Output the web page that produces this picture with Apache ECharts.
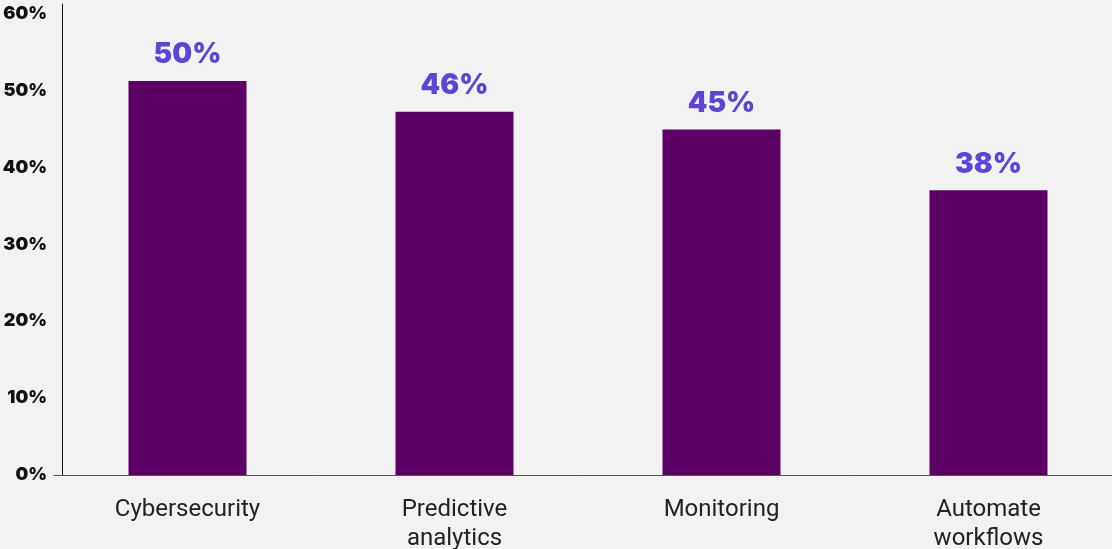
<!DOCTYPE html>
<html>
<head>
<meta charset="utf-8">
<script src="https://cdn.jsdelivr.net/npm/echarts@6/dist/echarts.min.js"></script>
<style>
html,body{margin:0;padding:0;background:#f2f2f2;overflow:hidden;}
#chart{width:1112px;height:549px;}
</style>
</head>
<body>
<div id="chart"></div>
<script>
var categories = ['Cybersecurity', 'Predictive\nanalytics', 'Monitoring', 'Automate\nworkflows'];
var barValues = [51.2, 47.2, 44.9, 37.0];
var barLabels = ['50%', '46%', '45%', '38%'];
var yTicks = [0, 10, 20, 30, 40, 50, 60];

var chart = echarts.init(document.getElementById('chart'));
chart.setOption({
  backgroundColor: '#f2f2f2',
  animation: false,
  grid: { left: 54, right: -10, top: 4, bottom: 74, outerBoundsMode: 'none', containLabel: false },
  xAxis: {
    type: 'category',
    data: categories,
    axisLine: { lineStyle: { color: '#555', width: 1 } },
    axisTick: { show: false },
    axisLabel: {
      color: '#222', fontSize: 24, fontFamily: 'Roboto', lineHeight: 29, margin: 20
    }
  },
  yAxis: {
    type: 'value',
    min: 0, max: 61.2, interval: 10,
    offset: -8,
    splitLine: { show: false },
    axisTick: { show: false },
    axisLine: { show: true, lineStyle: { color: '#111', width: 1 } },
    axisLabel: {
      margin: 15, color: '#111', fontSize: 18, fontWeight: 900, fontFamily: 'Inter',
      formatter: function (v) { return yTicks.indexOf(v) >= 0 ? v + '%' : ''; }
    }
  },
  series: [{
    type: 'bar',
    data: barValues,
    barWidth: 118,
    itemStyle: { color: '#5c0066' },
    label: {
      show: true, position: 'top', distance: 12,
      color: '#5e45d6', fontSize: 28, fontWeight: 900, fontFamily: 'Inter',
      formatter: function (p) { return barLabels[p.dataIndex]; }
    }
  }]
});
</script>
</body>
</html>
